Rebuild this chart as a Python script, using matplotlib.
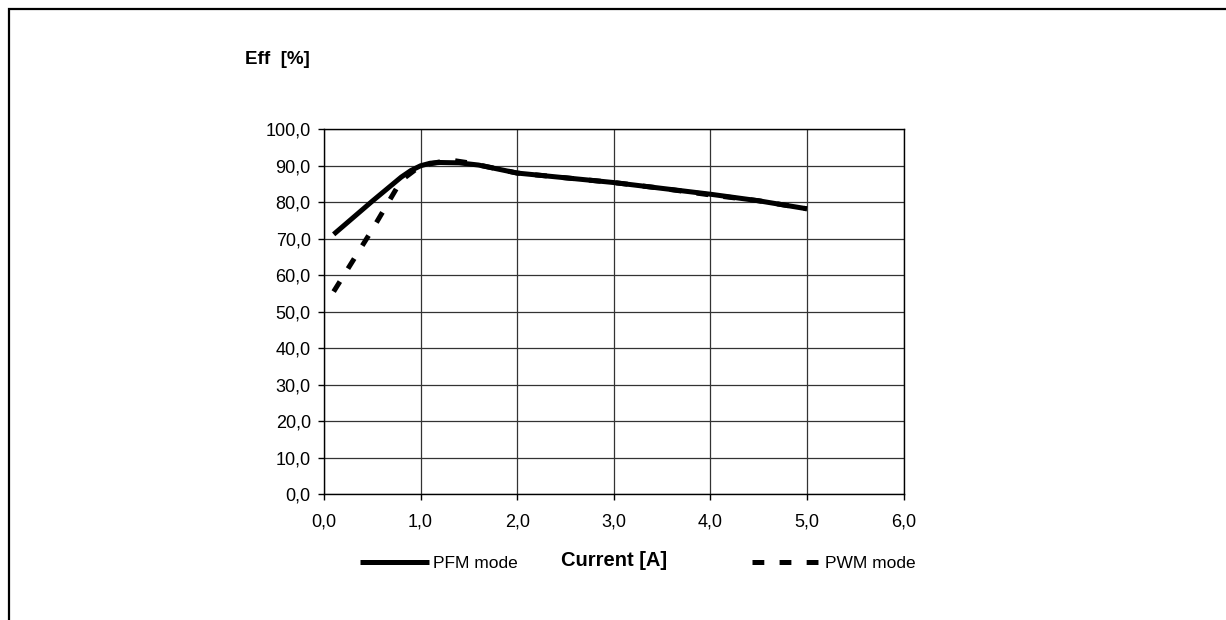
import matplotlib
matplotlib.use("Agg")
import matplotlib.pyplot as plt
from matplotlib.patches import Rectangle

plt.rcParams["font.family"] = ["Liberation Sans", "DejaVu Sans"]
plt.rcParams["lines.scale_dashes"] = False

# efficiency data
current_pfm = [0.1, 0.5, 0.7, 0.8, 0.9, 1.0, 1.1, 1.2, 1.4, 1.6, 2.0, 2.5, 3.0, 3.5, 4.0, 4.5, 5.0]
eff_pfm = [71.2, 80.3, 84.7, 86.9, 88.7, 90.0, 90.7, 90.9, 90.8, 90.2, 88.0, 86.7, 85.4, 83.8, 82.2, 80.4, 78.2]

current_pwm = [0.1, 0.5, 0.8, 1.0, 1.3, 1.5, 2.0, 2.5, 3.0, 3.5, 4.0, 4.5, 5.0]
eff_pwm = [55.5, 72.5, 86.0, 90.0, 91.6, 90.8, 88.0, 86.7, 85.4, 83.8, 82.0, 80.4, 78.2]

x_ticks = [0, 1, 2, 3, 4, 5, 6]
y_ticks = [0, 10, 20, 30, 40, 50, 60, 70, 80, 90, 100]

W, H = 1226, 620
fig = plt.figure(figsize=(W / 100, H / 100), dpi=100)
fig.patch.set_facecolor("white")

# outer frame (only top and left edges visible)
fig.patches.append(Rectangle((9 / W, -0.1), 1.2, 1 - 9 / H + 0.1, transform=fig.transFigure,
                             fill=False, edgecolor="black", linewidth=1.6))

left, right, top, bottom = 324, 903.5, 129.3, 494
ax = fig.add_axes([left / W, 1 - bottom / H, (right - left) / W, (bottom - top) / H])

ax.plot(current_pwm, eff_pwm, color="black", linewidth=3.6, dashes=(8.5, 11),
        dash_capstyle="butt", label="PWM mode", zorder=3)
ax.plot(current_pfm, eff_pfm, color="black", linewidth=3.6, solid_capstyle="butt",
        solid_joinstyle="round", label="PFM mode", zorder=4)

ax.set_xlim(0, 6)
ax.set_ylim(0, 100)
ax.set_xticks(x_ticks)
ax.set_yticks(y_ticks)
ax.set_xticklabels(["{:.1f}".format(v).replace(".", ",") for v in x_ticks])
ax.set_yticklabels(["{:.1f}".format(v).replace(".", ",") for v in y_ticks])
ax.tick_params(axis="x", direction="out", length=4, width=1, pad=10, labelsize=13)
ax.tick_params(axis="y", direction="out", length=4, width=1, pad=5.5, labelsize=13)
ax.grid(True, color="#333333", linewidth=0.9)
ax.set_axisbelow(True)
for s in ax.spines.values():
    s.set_color("black")
    s.set_linewidth(1)

ax.set_xlabel("Current [A]", fontsize=14.5, fontweight="bold", va="center")
ax.xaxis.set_label_coords(0.5, -(560 - bottom) / (bottom - top))
ax.set_ylabel("Eff  [%]", fontsize=13.5, fontweight="bold", rotation=0, ha="left", va="center")
ax.yaxis.set_label_coords((245 - left) / (right - left), (bottom - 60) / (bottom - top))

h, l = ax.get_legend_handles_labels()
fig.legend([h[1], h[0]], [l[1], l[0]], loc="center left",
           bbox_to_anchor=(360 / W, 1 - 563 / H), ncol=2, frameon=False,
           fontsize=12.5, handlelength=4.0, handletextpad=0.2, columnspacing=13.5,
           borderpad=0, borderaxespad=0)

fig.savefig("out.png", dpi=100)
